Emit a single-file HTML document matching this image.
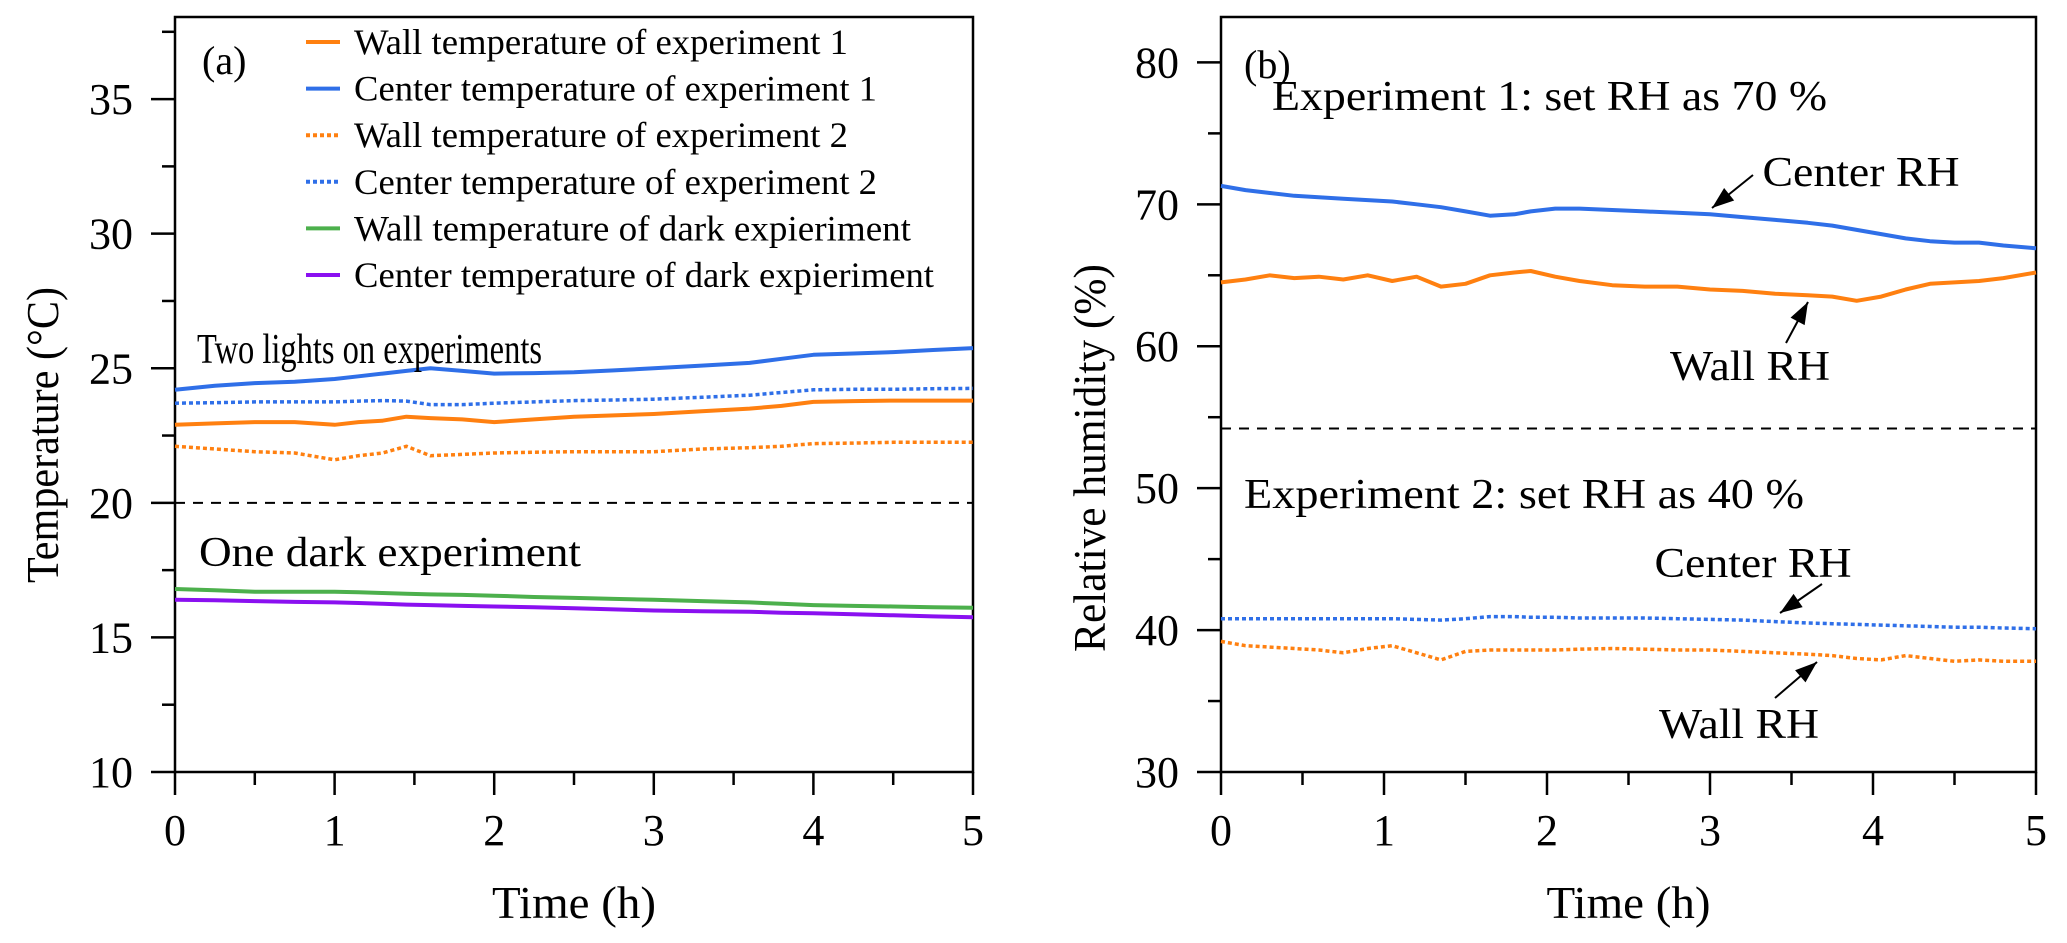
<!DOCTYPE html>
<html><head><meta charset="utf-8"><style>
html,body{margin:0;padding:0;background:#fff;}
svg{display:block;font-family:"Liberation Serif",serif;}
</style></head><body>
<svg id="c" width="2067" height="943" viewBox="0 0 2067 943" xmlns="http://www.w3.org/2000/svg"></svg>
<script>
// ---- data panel (a) ----
const tA = [0,0.25,0.5,0.75,1,1.15,1.3,1.45,1.6,1.8,2,2.25,2.5,2.75,3,3.3,3.6,3.8,4,4.25,4.5,4.75,5];
const centerT1 = [24.2,24.35,24.45,24.5,24.6,24.7,24.8,24.9,25.0,24.9,24.8,24.82,24.85,24.92,25.0,25.1,25.2,25.35,25.5,25.55,25.6,25.68,25.75];
const centerT2 = [23.7,23.72,23.75,23.75,23.75,23.78,23.8,23.78,23.65,23.65,23.7,23.75,23.8,23.82,23.85,23.92,24.0,24.1,24.2,24.22,24.22,24.24,24.25];
const wallT1 = [22.9,22.95,23.0,23.0,22.9,23.0,23.05,23.2,23.15,23.1,23.0,23.1,23.2,23.25,23.3,23.4,23.5,23.6,23.75,23.78,23.8,23.8,23.8];
const wallT2 = [22.1,22.0,21.9,21.85,21.6,21.75,21.85,22.1,21.75,21.8,21.85,21.88,21.9,21.9,21.9,22.0,22.05,22.1,22.2,22.22,22.25,22.25,22.25];
const wallTD = [16.8,16.75,16.7,16.7,16.7,16.68,16.65,16.62,16.6,16.58,16.55,16.5,16.47,16.43,16.4,16.35,16.3,16.25,16.2,16.17,16.15,16.12,16.1];
const centerTD = [16.4,16.38,16.35,16.32,16.3,16.28,16.25,16.22,16.2,16.17,16.15,16.12,16.08,16.04,16.0,15.97,15.95,15.92,15.9,15.86,15.82,15.78,15.75];
const yTicksA = [10,15,20,25,30,35];
// ---- data panel (b) ----
const tB = [0,0.15,0.3,0.45,0.6,0.75,0.9,1.05,1.2,1.35,1.5,1.65,1.8,1.9,2.05,2.2,2.4,2.6,2.8,3,3.2,3.4,3.6,3.75,3.9,4.05,4.2,4.35,4.5,4.65,4.8,5];
const centerRH1 = [71.3,71.0,70.8,70.6,70.5,70.4,70.3,70.2,70.0,69.8,69.5,69.2,69.3,69.5,69.7,69.7,69.6,69.5,69.4,69.3,69.1,68.9,68.7,68.5,68.2,67.9,67.6,67.4,67.3,67.3,67.1,66.9];
const wallRH1 = [64.5,64.7,65.0,64.8,64.9,64.7,65.0,64.6,64.9,64.2,64.4,65.0,65.2,65.3,64.9,64.6,64.3,64.2,64.2,64.0,63.9,63.7,63.6,63.5,63.2,63.5,64.0,64.4,64.5,64.6,64.8,65.2];
const centerRH2 = [40.8,40.8,40.8,40.8,40.8,40.8,40.8,40.8,40.75,40.7,40.8,40.95,40.95,40.9,40.9,40.85,40.85,40.85,40.8,40.75,40.7,40.6,40.5,40.45,40.4,40.35,40.3,40.25,40.2,40.2,40.15,40.1];
const wallRH2 = [39.2,38.9,38.8,38.7,38.6,38.4,38.7,38.9,38.4,37.9,38.5,38.6,38.6,38.6,38.6,38.65,38.7,38.65,38.6,38.6,38.5,38.4,38.3,38.2,38.0,37.9,38.2,38.0,37.8,37.9,37.8,37.8];
const yTicksB = [30,40,50,60,70,80];
const xTicks = [0,1,2,3,4,5];

const NS = "http://www.w3.org/2000/svg";
const svg = document.getElementById('c');
function el(tag, attrs, parent){ const e=document.createElementNS(NS,tag); for(const k in attrs) e.setAttribute(k,attrs[k]); (parent||svg).appendChild(e); return e; }
function txt(s, attrs, parent){ const e=el('text',attrs,parent); e.textContent=s; return e; }

const A = {x0:175, x1:973, top:17, bottom:772, ymin:10, ymax:38.05};
const B = {x0:1221, x1:2036, top:17, bottom:772, ymin:30, ymax:83.2};
function sx(P,v){ return P.x0 + v/5*(P.x1-P.x0); }
function sy(P,v){ return P.bottom - (v-P.ymin)/(P.ymax-P.ymin)*(P.bottom-P.top); }

function axes(P, yTicks, minorStep, gname){
  const g = el('g',{});
  
  
  const box = el('rect',{x:P.x0,y:P.top,width:P.x1-P.x0,height:P.bottom-P.top,fill:'none',stroke:'#000','stroke-width':2.5},g);
  
  
  for(let v=0; v<=5.001; v+=0.5){
    const major = Math.abs(v-Math.round(v))<1e-6;
    const t = el('line',{x1:sx(P,v),x2:sx(P,v),y1:P.bottom,y2:P.bottom+(major?23:13),stroke:'#000','stroke-width':2.5},g);
    
    
  }
  xTicks.forEach(v=>{
    const l = txt(String(v),{x:sx(P,v),y:845,'text-anchor':'middle','font-size':44},g);
    
    
  });
  for(let v=yTicks[0]; v<=P.ymax; v+=minorStep){
    const major = yTicks.indexOf(Math.round(v*10)/10)>=0;
    const t = el('line',{x1:P.x0-(major?24:13),x2:P.x0,y1:sy(P,v),y2:sy(P,v),stroke:'#000','stroke-width':2.5},g);
    
    
  }
  yTicks.forEach(v=>{
    const l = txt(String(v),{x:P.x0-42,y:sy(P,v)+15,'text-anchor':'end','font-size':44},g);
    
    
  });
  const xt = txt('Time (h)',{x:(P.x0+P.x1)/2,y:918,'text-anchor':'middle','font-size':46,textLength:164,lengthAdjust:'spacingAndGlyphs'},g);
  
  
}
axes(A, yTicksA, 2.5, 'panel-a-axes');
axes(B, yTicksB, 5, 'panel-b-axes');

const yt1 = txt('Temperature (°C)',{x:0,y:0,'text-anchor':'middle','font-size':46,textLength:296,lengthAdjust:'spacingAndGlyphs',transform:'translate(58,435) rotate(-90)'});


const yt2 = txt('Relative humidity (%)',{x:0,y:0,'text-anchor':'middle','font-size':46,textLength:388,lengthAdjust:'spacingAndGlyphs',transform:'translate(1105,458) rotate(-90)'});



// dashed separators
const d1 = el('line',{x1:A.x0,x2:A.x1,y1:sy(A,20),y2:sy(A,20),stroke:'#000','stroke-width':2,'stroke-dasharray':'10 8'});


const d2 = el('line',{x1:B.x0,x2:B.x1,y1:sy(B,54.2),y2:sy(B,54.2),stroke:'#000','stroke-width':2,'stroke-dasharray':'10 8'});



const ORANGE='#ff8010', BLUE='#2f6fe8', GREEN='#4cb04c', PURPLE='#8a10f0';
function series(P, xs, ys, color, dotted, name){
  const pts = xs.map((x,i)=>sx(P,x).toFixed(1)+','+sy(P,ys[i]).toFixed(1)).join(' ');
  const p = el('polyline',{points:pts,fill:'none',stroke:color,'stroke-width':dotted?3.5:4,'stroke-dasharray':dotted?'4 3':'none','stroke-linejoin':'round'});
  
  
}
series(A,tA,centerT1,BLUE,false,'center-temp-exp1-line');
series(A,tA,centerT2,BLUE,true,'center-temp-exp2-line');
series(A,tA,wallT1,ORANGE,false,'wall-temp-exp1-line');
series(A,tA,wallT2,ORANGE,true,'wall-temp-exp2-line');
series(A,tA,wallTD,GREEN,false,'wall-temp-dark-line');
series(A,tA,centerTD,PURPLE,false,'center-temp-dark-line');
series(B,tB,centerRH1,BLUE,false,'center-rh-exp1-line');
series(B,tB,wallRH1,ORANGE,false,'wall-rh-exp1-line');
series(B,tB,centerRH2,BLUE,true,'center-rh-exp2-line');
series(B,tB,wallRH2,ORANGE,true,'wall-rh-exp2-line');

// legend
const legendLabels = ['Wall temperature of experiment 1','Center temperature of experiment 1','Wall temperature of experiment 2','Center temperature of experiment 2','Wall temperature of dark expieriment','Center temperature of dark expieriment'];
const legendColors = [ORANGE,BLUE,ORANGE,BLUE,GREEN,PURPLE];
const legendDotted = [false,false,true,true,false,false];
const legendEnds = [848,877,848,877,911,934];
legendLabels.forEach((s,i)=>{
  const y = 42 + i*46.6;
  const g = el('g',{});
  
  
  el('line',{x1:306,x2:340,y1:y,y2:y,stroke:legendColors[i],'stroke-width':4,'stroke-dasharray':legendDotted[i]?'4 3':'none'},g);
  txt(s,{x:354,y:y+12,'font-size':36,textLength:legendEnds[i]-354,lengthAdjust:'spacingAndGlyphs'},g);
});

function label(s, attrs, name){
  const t = txt(s, attrs);
  
  
}
label('(a)',{x:202,y:74,'font-size':40},'panel-label-a');
label('(b)',{x:1244,y:78,'font-size':40},'panel-label-b');
label('Two lights on experiments',{x:197,y:363,'font-size':42,textLength:345,lengthAdjust:'spacingAndGlyphs'},'annotation-two-lights');
label('One dark experiment',{x:199,y:566,'font-size':42,textLength:382,lengthAdjust:'spacingAndGlyphs'},'annotation-dark');
label('Experiment 1: set RH as 70 %',{x:1272,y:110,'font-size':42,textLength:555,lengthAdjust:'spacingAndGlyphs'},'annotation-exp1');
label('Experiment 2: set RH as 40 %',{x:1244,y:508,'font-size':42,textLength:560,lengthAdjust:'spacingAndGlyphs'},'annotation-exp2');
label('Center RH',{x:1861,y:186,'font-size':42,'text-anchor':'middle',textLength:197,lengthAdjust:'spacingAndGlyphs'},'label-center-rh-1');
label('Wall RH',{x:1750,y:380,'font-size':42,'text-anchor':'middle',textLength:160,lengthAdjust:'spacingAndGlyphs'},'label-wall-rh-1');
label('Center RH',{x:1753,y:577,'font-size':42,'text-anchor':'middle',textLength:197,lengthAdjust:'spacingAndGlyphs'},'label-center-rh-2');
label('Wall RH',{x:1739,y:738,'font-size':42,'text-anchor':'middle',textLength:160,lengthAdjust:'spacingAndGlyphs'},'label-wall-rh-2');

function arrow(x1,y1,x2,y2,name){
  const g = el('g',{});
  
  
  el('line',{x1:x1,y1:y1,x2:x2,y2:y2,stroke:'#000','stroke-width':2},g);
  const a=Math.atan2(y2-y1,x2-x1), L=22, W=8;
  const bx=x2-L*Math.cos(a), by=y2-L*Math.sin(a);
  const px=-Math.sin(a)*W, py=Math.cos(a)*W;
  el('polygon',{points:`${x2},${y2} ${bx+px},${by+py} ${bx-px},${by-py}`,fill:'#000'},g);
}
arrow(1753,175,1712,208,'arrow-center-rh-1');
arrow(1786,343,1808,302,'arrow-wall-rh-1');
arrow(1822,584,1780,613,'arrow-center-rh-2');
arrow(1775,698,1817,662,'arrow-wall-rh-2');
</script>
</body></html>
